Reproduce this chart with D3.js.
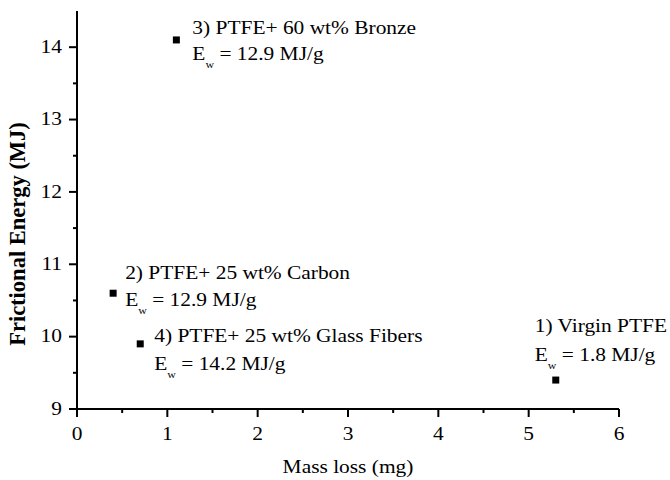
<!DOCTYPE html>
<html>
<head>
<meta charset="utf-8">
<script src="https://cdn.jsdelivr.net/npm/d3@7"></script>
<style>
  body { margin: 0; background: #fff; }
  #chart text { font-family: "Liberation Serif", "Times New Roman", serif; fill: #000; }
</style>
</head>
<body>
<div id="chart"></div>
<script>
// data
const massLoss = [5.3, 0.4, 1.1, 0.7];
const fricEnergy = [9.4, 10.6, 14.1, 9.9];
const sampleNames = [
  "1) Virgin PTFE",
  "2) PTFE+ 25 wt% Carbon",
  "3) PTFE+ 60 wt% Bronze",
  "4) PTFE+ 25 wt% Glass Fibers",
];
const ewValues = ["1.8", "12.9", "12.9", "14.2"];
const xTicks = [0, 1, 2, 3, 4, 5, 6];
const yTicks = [9, 10, 11, 12, 13, 14];
const xMinor = [0.5, 1.5, 2.5, 3.5, 4.5, 5.5];
const yMinor = [9.5, 10.5, 11.5, 12.5, 13.5];

// label placement relative to each point (px): dx, first line dy, second line dy
const labelOffsets = [
  [-21, -48, -19],
  [12, -14, 13],
  [16, -6, 20],
  [14, -2, 26],
];

const W = 670, H = 480;
const margin = { top: 11, right: 51, bottom: 71, left: 77 };
const SX = 1.19; // source text is slightly wide

const svg = d3.select("#chart").append("svg")
  .attr("width", W).attr("height", H);

const x = d3.scaleLinear().domain([0, 6]).range([margin.left, W - margin.right]);
const y = d3.scaleLinear().domain([9, 14.5]).range([H - margin.bottom, margin.top]);

const data = massLoss.map((m, i) => ({
  x: m, y: fricEnergy[i], name: sampleNames[i], ew: ewValues[i], off: labelOffsets[i],
}));

// minor ticks
svg.append("g")
  .attr("transform", `translate(0,${y(9)})`)
  .call(d3.axisBottom(x).tickValues(xMinor).tickSize(4).tickFormat("").offset(0))
  .call(g => g.select(".domain").remove())
  .selectAll("line").attr("stroke", "#000").attr("stroke-width", 2);
svg.append("g")
  .attr("transform", `translate(${x(0)},0)`)
  .call(d3.axisLeft(y).tickValues(yMinor).tickSize(4).tickFormat("").offset(0))
  .call(g => g.select(".domain").remove())
  .selectAll("line").attr("stroke", "#000").attr("stroke-width", 2);

// main axes
const xAxis = svg.append("g")
  .attr("transform", `translate(0,${y(9)})`)
  .call(d3.axisBottom(x).tickValues(xTicks).tickSize(8).tickSizeOuter(0)
    .tickPadding(10).tickFormat(d3.format("d")).offset(0));
const yAxis = svg.append("g")
  .attr("transform", `translate(${x(0)},0)`)
  .call(d3.axisLeft(y).tickValues(yTicks).tickSize(8).tickSizeOuter(0)
    .tickFormat(d3.format("d")).offset(0));

[xAxis, yAxis].forEach(g => {
  g.attr("font-family", "Liberation Serif");
  g.selectAll("path, line").attr("stroke", "#000").attr("stroke-width", 2);
  g.selectAll("text").attr("font-size", 18).attr("fill", "#000")
    .attr("transform", `scale(${SX},1)`);
});
yAxis.selectAll("text").attr("x", -15 / SX);

// axis titles
svg.append("text")
  .attr("transform", `translate(${(x(0) + x(6)) / 2},${H - 7}) scale(${SX},1)`)
  .attr("text-anchor", "middle")
  .attr("font-size", 18)
  .text("Mass loss (mg)");

svg.append("text")
  .attr("transform", `translate(25,234) rotate(-90)`)
  .attr("text-anchor", "middle")
  .attr("font-size", 22.5)
  .attr("font-weight", "bold")
  .text("Frictional Energy (MJ)");

// points
svg.selectAll(".pt")
  .data(data)
  .join("rect")
  .attr("class", "pt")
  .attr("x", d => x(d.x) - 3.5)
  .attr("y", d => y(d.y) - 3.5)
  .attr("width", 7)
  .attr("height", 7)
  .attr("fill", "#000");

// annotations
const lab = svg.selectAll(".lab")
  .data(data)
  .join("g")
  .attr("class", "lab");

lab.append("text")
  .attr("transform", d => `translate(${x(d.x) + d.off[0]},${y(d.y) + d.off[1]}) scale(${SX},1)`)
  .attr("font-size", 18)
  .text(d => d.name);

const ew = lab.append("text")
  .attr("transform", d => `translate(${x(d.x) + d.off[0]},${y(d.y) + d.off[2]}) scale(${SX},1)`)
  .attr("font-size", 18);
ew.append("tspan").text("E");
ew.append("tspan").attr("font-size", 10).attr("dy", 8).text("w");
ew.append("tspan").attr("dy", -8).text(d => ` = ${d.ew} MJ/g`);
</script>
</body>
</html>
